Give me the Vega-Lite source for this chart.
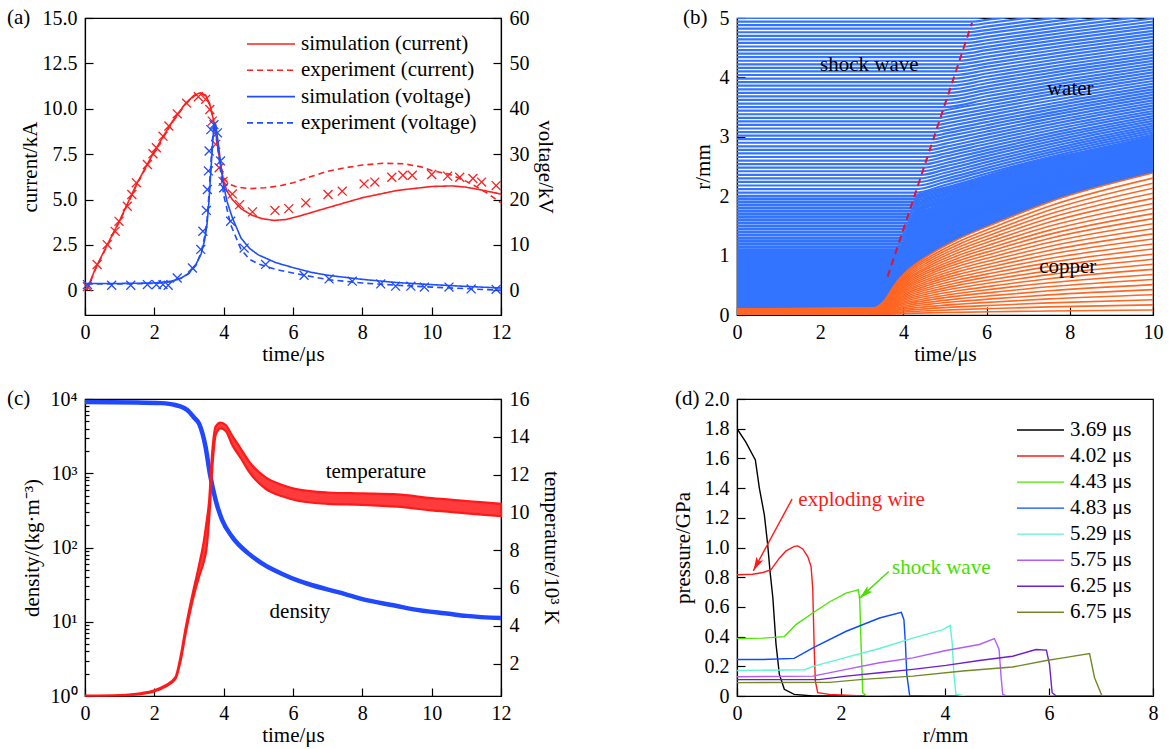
{
"$schema": "https://vega.github.io/schema/vega-lite/v6.json",
"background": "white",
"padding": {"left": 6, "top": 6, "right": 4, "bottom": 4},
"columns": 2,
"spacing": {"row": 84, "column": 236},
"bounds": "flush",
"resolve": {"scale": {"color": "independent", "strokeDash": "independent"}, "legend": {"color": "independent", "strokeDash": "independent"}},
"config": {
 "view": {"stroke": "#000000", "strokeWidth": 1.2},
 "font": "Liberation Serif, Times New Roman, serif",
 "axis": {"labelFont": "Liberation Serif, Times New Roman, serif", "labelFontSize": 20, "labelColor": "#000000", "titleFont": "Liberation Serif, Times New Roman, serif", "titleFontSize": 21, "titleFontWeight": "normal", "titleColor": "#000000", "domainColor": "#000000", "domainWidth": 1.2, "tickColor": "#000000", "tickWidth": 1.2, "tickSize": -8, "labelPadding": 16, "grid": false, "labelFlush": false, "labelOverlap": false},
 "axisX": {"labelPadding": 15},
 "title": {"font": "Liberation Serif, Times New Roman, serif", "fontSize": 21, "fontWeight": "normal", "color": "#000000"},
 "text": {"font": "Liberation Serif, Times New Roman, serif", "fontSize": 21, "color": "#000000"},
 "legend": {"labelFont": "Liberation Serif, Times New Roman, serif"}
},
"concat": [
{
 "width": 416, "height": 297,
 "title": {"text": "(a)", "anchor": "start", "frame": "group", "baseline": "middle", "offset": -10, "dx": -78, "dy": 21},
 "resolve": {"scale": {"y": "independent"}},
 "layer": [
  {
   "data": {"values": [
    {"s":"simulation (current)","t":0.05,"v":0},{"s":"simulation (current)","t":0.3,"v":1.2},{"s":"simulation (current)","t":0.6,"v":2.35},{"s":"simulation (current)","t":1.0,"v":3.85},{"s":"simulation (current)","t":1.5,"v":5.9},{"s":"simulation (current)","t":2.0,"v":7.65},{"s":"simulation (current)","t":2.5,"v":9.25},{"s":"simulation (current)","t":2.9,"v":10.3},{"s":"simulation (current)","t":3.15,"v":10.75},{"s":"simulation (current)","t":3.33,"v":10.88},{"s":"simulation (current)","t":3.48,"v":10.75},{"s":"simulation (current)","t":3.6,"v":10.25},{"s":"simulation (current)","t":3.7,"v":9.45},{"s":"simulation (current)","t":3.8,"v":8.3},{"s":"simulation (current)","t":3.9,"v":7.0},{"s":"simulation (current)","t":4.0,"v":6.0},{"s":"simulation (current)","t":4.1,"v":5.45},{"s":"simulation (current)","t":4.25,"v":5.0},{"s":"simulation (current)","t":4.5,"v":4.5},{"s":"simulation (current)","t":4.8,"v":4.15},{"s":"simulation (current)","t":5.1,"v":3.95},{"s":"simulation (current)","t":5.45,"v":3.85},{"s":"simulation (current)","t":5.8,"v":3.9},{"s":"simulation (current)","t":6.2,"v":4.1},{"s":"simulation (current)","t":7.0,"v":4.55},{"s":"simulation (current)","t":8.0,"v":5.1},{"s":"simulation (current)","t":9.0,"v":5.5},{"s":"simulation (current)","t":10.0,"v":5.72},{"s":"simulation (current)","t":10.6,"v":5.75},{"s":"simulation (current)","t":11.0,"v":5.68},{"s":"simulation (current)","t":11.5,"v":5.5},{"s":"simulation (current)","t":12.0,"v":5.3},
    {"s":"experiment (current)","t":0.05,"v":0},{"s":"experiment (current)","t":0.3,"v":1.15},{"s":"experiment (current)","t":0.6,"v":2.3},{"s":"experiment (current)","t":1.0,"v":3.8},{"s":"experiment (current)","t":1.5,"v":5.85},{"s":"experiment (current)","t":2.0,"v":7.6},{"s":"experiment (current)","t":2.5,"v":9.2},{"s":"experiment (current)","t":2.9,"v":10.25},{"s":"experiment (current)","t":3.15,"v":10.7},{"s":"experiment (current)","t":3.33,"v":10.85},{"s":"experiment (current)","t":3.48,"v":10.7},{"s":"experiment (current)","t":3.6,"v":10.2},{"s":"experiment (current)","t":3.7,"v":9.4},{"s":"experiment (current)","t":3.8,"v":8.2},{"s":"experiment (current)","t":3.9,"v":7.0},{"s":"experiment (current)","t":4.0,"v":6.2},{"s":"experiment (current)","t":4.15,"v":5.85},{"s":"experiment (current)","t":4.4,"v":5.68},{"s":"experiment (current)","t":4.75,"v":5.6},{"s":"experiment (current)","t":5.2,"v":5.65},{"s":"experiment (current)","t":5.6,"v":5.75},{"s":"experiment (current)","t":6.0,"v":5.92},{"s":"experiment (current)","t":6.5,"v":6.25},{"s":"experiment (current)","t":7.0,"v":6.56},{"s":"experiment (current)","t":7.5,"v":6.75},{"s":"experiment (current)","t":8.0,"v":6.9},{"s":"experiment (current)","t":8.6,"v":7.0},{"s":"experiment (current)","t":9.2,"v":6.97},{"s":"experiment (current)","t":9.7,"v":6.8},{"s":"experiment (current)","t":10.0,"v":6.6},{"s":"experiment (current)","t":10.5,"v":6.4},{"s":"experiment (current)","t":11.0,"v":6.0},{"s":"experiment (current)","t":11.3,"v":5.7},{"s":"experiment (current)","t":11.6,"v":5.35},{"s":"experiment (current)","t":12.0,"v":4.82}
   ]},
   "mark": {"type": "line", "strokeWidth": 1.6, "clip": true},
   "encoding": {
    "x": {"field": "t", "type": "quantitative", "scale": {"domain": [0, 12], "nice": false}, "axis": {"title": "time/μs", "values": [0,2,4,6,8,10,12], "titlePadding": 1}},
    "y": {"field": "v", "type": "quantitative", "scale": {"domain": [-1.36, 15], "nice": false, "zero": false}, "axis": {"orient": "left", "title": "current/kA", "values": [0,2.5,5,7.5,10,12.5,15], "tickCount": 20, "labelExpr": "datum.value == 0 ? '0' : format(datum.value, '.1f')", "titlePadding": 2}},
    "color": {"field": "s", "type": "nominal", "scale": {"domain": ["simulation (current)","experiment (current)","simulation (voltage)","experiment (voltage)"], "range": ["#ff1f1f","#ff1f1f","#1f4dff","#1f4dff"]}, "legend": {"title": null, "orient": "none", "legendX": 161, "legendY": 14, "symbolType": "stroke", "symbolSize": 2304, "symbolStrokeWidth": 1.6, "clipHeight": 24, "rowPadding": 2.3, "labelFontSize": 21, "labelOffset": 5, "labelLimit": 400, "padding": 0, "labelColor": "#000000"}},
    "strokeDash": {"field": "s", "type": "nominal", "scale": {"domain": ["simulation (current)","experiment (current)","simulation (voltage)","experiment (voltage)"], "range": [[1,0],[6,4],[1,0],[6,4]]}, "legend": {"title": null, "orient": "none", "legendX": 161, "legendY": 14, "symbolType": "stroke", "symbolSize": 2304, "symbolStrokeWidth": 1.6, "clipHeight": 24, "rowPadding": 2.3, "labelFontSize": 21, "labelOffset": 5, "labelLimit": 400, "padding": 0, "labelColor": "#000000"}}
   }
  },
  {
   "data": {"values": [
    {"t":0.07,"v":0.2},{"t":0.35,"v":1.42},{"t":0.64,"v":2.52},{"t":0.87,"v":3.25},{"t":0.98,"v":3.8},{"t":1.22,"v":4.63},{"t":1.35,"v":5.28},{"t":1.48,"v":5.92},{"t":1.8,"v":6.93},{"t":1.96,"v":7.52},{"t":2.06,"v":7.85},{"t":2.25,"v":8.49},{"t":2.42,"v":9.05},{"t":2.66,"v":9.72},{"t":2.93,"v":10.31},{"t":3.27,"v":10.66},{"t":3.48,"v":10.52},{"t":3.6,"v":9.96},{"t":3.67,"v":9.32},{"t":3.77,"v":8.04},{"t":3.87,"v":6.75},{"t":3.98,"v":6.0},{"t":4.25,"v":5.31},{"t":4.46,"v":4.72},{"t":4.83,"v":4.32},{"t":5.48,"v":4.4},{"t":5.88,"v":4.5},{"t":6.37,"v":4.82},{"t":7.01,"v":5.28},{"t":7.42,"v":5.46},{"t":8.05,"v":5.86},{"t":8.36,"v":5.96},{"t":8.85,"v":6.23},{"t":9.17,"v":6.34},{"t":9.44,"v":6.34},{"t":10.0,"v":6.38},{"t":10.46,"v":6.29},{"t":10.81,"v":6.23},{"t":11.19,"v":6.16},{"t":11.44,"v":5.96},{"t":11.86,"v":5.77}
   ]},
   "mark": {"type": "point", "shape": "M-1,-1L1,1M1,-1L-1,1", "filled": false, "size": 80, "strokeWidth": 1.3, "color": "#ff1f1f", "opacity": 1},
   "encoding": {
    "x": {"field": "t", "type": "quantitative"},
    "y": {"field": "v", "type": "quantitative", "scale": {"domain": [-1.36, 15], "nice": false, "zero": false}, "axis": null}
   }
  },
  {
   "data": {"values": [
    {"s":"simulation (voltage)","t":0.05,"v":1.5},{"s":"simulation (voltage)","t":1.0,"v":1.5},{"s":"simulation (voltage)","t":2.0,"v":1.6},{"s":"simulation (voltage)","t":2.5,"v":2.0},{"s":"simulation (voltage)","t":2.8,"v":2.8},{"s":"simulation (voltage)","t":3.0,"v":3.8},{"s":"simulation (voltage)","t":3.2,"v":5.7},{"s":"simulation (voltage)","t":3.35,"v":8.0},{"s":"simulation (voltage)","t":3.45,"v":11.0},{"s":"simulation (voltage)","t":3.52,"v":14.5},{"s":"simulation (voltage)","t":3.57,"v":19.0},{"s":"simulation (voltage)","t":3.62,"v":25.0},{"s":"simulation (voltage)","t":3.67,"v":31.0},{"s":"simulation (voltage)","t":3.71,"v":35.5},{"s":"simulation (voltage)","t":3.74,"v":36.9},{"s":"simulation (voltage)","t":3.78,"v":36.0},{"s":"simulation (voltage)","t":3.85,"v":32.0},{"s":"simulation (voltage)","t":3.92,"v":27.5},{"s":"simulation (voltage)","t":4.0,"v":23.0},{"s":"simulation (voltage)","t":4.1,"v":19.5},{"s":"simulation (voltage)","t":4.25,"v":16.0},{"s":"simulation (voltage)","t":4.5,"v":11.5},{"s":"simulation (voltage)","t":4.75,"v":9.2},{"s":"simulation (voltage)","t":5.0,"v":7.8},{"s":"simulation (voltage)","t":5.5,"v":6.1},{"s":"simulation (voltage)","t":6.0,"v":5.0},{"s":"simulation (voltage)","t":6.5,"v":4.0},{"s":"simulation (voltage)","t":7.0,"v":3.3},{"s":"simulation (voltage)","t":8.0,"v":2.4},{"s":"simulation (voltage)","t":9.0,"v":1.7},{"s":"simulation (voltage)","t":10.0,"v":1.25},{"s":"simulation (voltage)","t":11.0,"v":0.85},{"s":"simulation (voltage)","t":12.0,"v":0.5},
    {"s":"experiment (voltage)","t":0.05,"v":1.4},{"s":"experiment (voltage)","t":1.0,"v":1.4},{"s":"experiment (voltage)","t":2.0,"v":1.5},{"s":"experiment (voltage)","t":2.5,"v":1.9},{"s":"experiment (voltage)","t":2.8,"v":2.7},{"s":"experiment (voltage)","t":3.0,"v":3.7},{"s":"experiment (voltage)","t":3.2,"v":5.5},{"s":"experiment (voltage)","t":3.35,"v":8.3},{"s":"experiment (voltage)","t":3.45,"v":11.8},{"s":"experiment (voltage)","t":3.52,"v":15.5},{"s":"experiment (voltage)","t":3.57,"v":20.5},{"s":"experiment (voltage)","t":3.62,"v":26.5},{"s":"experiment (voltage)","t":3.67,"v":32.5},{"s":"experiment (voltage)","t":3.71,"v":36.0},{"s":"experiment (voltage)","t":3.74,"v":36.5},{"s":"experiment (voltage)","t":3.78,"v":35.0},{"s":"experiment (voltage)","t":3.85,"v":30.5},{"s":"experiment (voltage)","t":3.92,"v":25.5},{"s":"experiment (voltage)","t":4.0,"v":21.0},{"s":"experiment (voltage)","t":4.2,"v":14.5},{"s":"experiment (voltage)","t":4.5,"v":9.0},{"s":"experiment (voltage)","t":4.75,"v":6.8},{"s":"experiment (voltage)","t":5.0,"v":5.8},{"s":"experiment (voltage)","t":5.5,"v":4.6},{"s":"experiment (voltage)","t":6.0,"v":3.8},{"s":"experiment (voltage)","t":7.0,"v":2.35},{"s":"experiment (voltage)","t":8.0,"v":1.6},{"s":"experiment (voltage)","t":9.0,"v":1.1},{"s":"experiment (voltage)","t":10.0,"v":0.7},{"s":"experiment (voltage)","t":11.0,"v":0.35},{"s":"experiment (voltage)","t":12.0,"v":0.0}
   ]},
   "mark": {"type": "line", "strokeWidth": 1.6, "clip": true},
   "encoding": {
    "x": {"field": "t", "type": "quantitative"},
    "y": {"field": "v", "type": "quantitative", "scale": {"domain": [-5.45, 60], "nice": false, "zero": false}, "axis": {"orient": "right", "title": "voltage/kV", "values": [0,10,20,30,40,50,60], "tickCount": 20, "titlePadding": 5}},
    "color": {"field": "s", "type": "nominal", "scale": {"domain": ["simulation (current)","experiment (current)","simulation (voltage)","experiment (voltage)"], "range": ["#ff1f1f","#ff1f1f","#1f4dff","#1f4dff"]}, "legend": {"title": null, "orient": "none", "legendX": 161, "legendY": 14, "symbolType": "stroke", "symbolSize": 2304, "symbolStrokeWidth": 1.6, "clipHeight": 24, "rowPadding": 2.3, "labelFontSize": 21, "labelOffset": 5, "labelLimit": 400, "padding": 0, "labelColor": "#000000"}},
    "strokeDash": {"field": "s", "type": "nominal", "scale": {"domain": ["simulation (current)","experiment (current)","simulation (voltage)","experiment (voltage)"], "range": [[1,0],[6,4],[1,0],[6,4]]}, "legend": {"title": null, "orient": "none", "legendX": 161, "legendY": 14, "symbolType": "stroke", "symbolSize": 2304, "symbolStrokeWidth": 1.6, "clipHeight": 24, "rowPadding": 2.3, "labelFontSize": 21, "labelOffset": 5, "labelLimit": 400, "padding": 0, "labelColor": "#000000"}}
   }
  },
  {
   "data": {"values": [
    {"t":0.07,"v":1.25},{"t":0.77,"v":1.1},{"t":1.32,"v":1.1},{"t":1.8,"v":1.25},{"t":2.06,"v":1.25},{"t":2.25,"v":1.25},{"t":2.4,"v":1.1},{"t":2.66,"v":2.7},{"t":3.1,"v":4.9},{"t":3.34,"v":9.0},{"t":3.4,"v":13.0},{"t":3.5,"v":17.6},{"t":3.53,"v":22.2},{"t":3.56,"v":26.3},{"t":3.58,"v":30.7},{"t":3.63,"v":35.4},{"t":3.72,"v":36.5},{"t":3.82,"v":34.7},{"t":3.91,"v":28.5},{"t":4.0,"v":22.6},{"t":4.2,"v":15.2},{"t":4.59,"v":9.3},{"t":5.21,"v":5.7},{"t":6.32,"v":3.3},{"t":7.04,"v":2.5},{"t":7.71,"v":2.0},{"t":8.53,"v":1.4},{"t":8.96,"v":0.9},{"t":9.4,"v":0.9},{"t":9.79,"v":0.7},{"t":10.5,"v":0.7},{"t":11.14,"v":0.3},{"t":11.86,"v":0.2}
   ]},
   "mark": {"type": "point", "shape": "M-1,-1L1,1M1,-1L-1,1", "filled": false, "size": 80, "strokeWidth": 1.3, "color": "#1f4dff", "opacity": 1},
   "encoding": {
    "x": {"field": "t", "type": "quantitative"},
    "y": {"field": "v", "type": "quantitative", "scale": {"domain": [-5.45, 60], "nice": false, "zero": false}, "axis": null}
   }
  }
 ]
},
{
 "width": 416, "height": 297,
 "title": {"text": "(b)", "anchor": "start", "frame": "group", "baseline": "middle", "offset": -10, "dx": -54, "dy": 21},
 "layer": [
  {
   "data": {"values": [{"t":0,"lo":0.1,"hi":1.12},{"t":3.3,"lo":0.12,"hi":1.12},{"t":3.55,"lo":0.25,"hi":1.12},{"t":3.8,"lo":0.52,"hi":1.12},{"t":4.1,"lo":0.75,"hi":1.227},{"t":4.6,"lo":1.0,"hi":1.394},{"t":5.3,"lo":1.27,"hi":1.599},{"t":6.2,"lo":1.54,"hi":1.821},{"t":7.5,"lo":1.9,"hi":2.134},{"t":10,"lo":2.39,"hi":2.58}]},
   "mark": {"type": "area", "color": "#3273ff", "interpolate": "monotone", "clip": true, "opacity": 1},
   "encoding": {
    "x": {"field": "t", "type": "quantitative", "scale": {"domain": [0, 10], "nice": false}, "axis": {"title": "time/μs", "values": [0,2,4,6,8,10], "format": "d", "titlePadding": 1}},
    "y": {"field": "lo", "type": "quantitative", "scale": {"domain": [0, 5], "nice": false}, "axis": {"title": "r/mm", "values": [0,1,2,3,4,5], "format": "d", "titlePadding": 6}},
    "y2": {"field": "hi"}
   }
  },
  {
   "data": {"values": [
    {"k":1,"t":0,"r":1.05},{"k":1,"t":3.813,"r":1.05},{"k":1,"t":4.4,"r":1.293},{"k":1,"t":5,"r":1.457},{"k":1,"t":6,"r":1.736},{"k":1,"t":7,"r":1.998},{"k":1,"t":8.5,"r":2.287},{"k":1,"t":10,"r":2.556},
    {"k":2,"t":0,"r":1.1},{"k":2,"t":3.837,"r":1.1},{"k":2,"t":4.4,"r":1.327},{"k":2,"t":5,"r":1.487},{"k":2,"t":6,"r":1.761},{"k":2,"t":7,"r":2.02},{"k":2,"t":8.5,"r":2.307},{"k":2,"t":10,"r":2.573},
    {"k":3,"t":0,"r":1.15},{"k":3,"t":3.86,"r":1.15},{"k":3,"t":4.4,"r":1.361},{"k":3,"t":5,"r":1.517},{"k":3,"t":6,"r":1.787},{"k":3,"t":7,"r":2.043},{"k":3,"t":8.5,"r":2.326},{"k":3,"t":10,"r":2.591},
    {"k":4,"t":0,"r":1.2},{"k":4,"t":3.884,"r":1.2},{"k":4,"t":4.4,"r":1.395},{"k":4,"t":5,"r":1.548},{"k":4,"t":6,"r":1.812},{"k":4,"t":7,"r":2.065},{"k":4,"t":8.5,"r":2.346},{"k":4,"t":10,"r":2.609},
    {"k":5,"t":0,"r":1.25},{"k":5,"t":3.908,"r":1.25},{"k":5,"t":4.4,"r":1.429},{"k":5,"t":5,"r":1.579},{"k":5,"t":6,"r":1.839},{"k":5,"t":7,"r":2.089},{"k":5,"t":8.5,"r":2.367},{"k":5,"t":10,"r":2.627},
    {"k":6,"t":0,"r":1.3},{"k":6,"t":3.932,"r":1.3},{"k":6,"t":4.4,"r":1.466},{"k":6,"t":5,"r":1.612},{"k":6,"t":6,"r":1.868},{"k":6,"t":7,"r":2.114},{"k":6,"t":8.5,"r":2.39},{"k":6,"t":10,"r":2.648},
    {"k":7,"t":0,"r":1.35},{"k":7,"t":3.956,"r":1.35},{"k":7,"t":4.4,"r":1.502},{"k":7,"t":5,"r":1.645},{"k":7,"t":6,"r":1.897},{"k":7,"t":7,"r":2.14},{"k":7,"t":8.5,"r":2.412},{"k":7,"t":10,"r":2.668},
    {"k":8,"t":0,"r":1.4},{"k":8,"t":3.98,"r":1.4},{"k":8,"t":4.4,"r":1.539},{"k":8,"t":5,"r":1.679},{"k":8,"t":6,"r":1.926},{"k":8,"t":7,"r":2.166},{"k":8,"t":8.5,"r":2.435},{"k":8,"t":10,"r":2.689},
    {"k":9,"t":0,"r":1.45},{"k":9,"t":4.003,"r":1.45},{"k":9,"t":4.4,"r":1.579},{"k":9,"t":5,"r":1.715},{"k":9,"t":6,"r":1.958},{"k":9,"t":7,"r":2.194},{"k":9,"t":8.5,"r":2.46},{"k":9,"t":10,"r":2.712},
    {"k":10,"t":0,"r":1.5},{"k":10,"t":4.027,"r":1.5},{"k":10,"t":4.4,"r":1.616},{"k":10,"t":5,"r":1.749},{"k":10,"t":6,"r":1.987},{"k":10,"t":7,"r":2.22},{"k":10,"t":8.5,"r":2.484},{"k":10,"t":10,"r":2.733},
    {"k":11,"t":0,"r":1.55},{"k":11,"t":4.051,"r":1.55},{"k":11,"t":4.4,"r":1.656},{"k":11,"t":5,"r":1.787},{"k":11,"t":6,"r":2.021},{"k":11,"t":7,"r":2.25},{"k":11,"t":8.5,"r":2.51},{"k":11,"t":10,"r":2.757},
    {"k":12,"t":0,"r":1.6},{"k":12,"t":4.075,"r":1.6},{"k":12,"t":4.4,"r":1.696},{"k":12,"t":5,"r":1.823},{"k":12,"t":6,"r":2.053},{"k":12,"t":7,"r":2.279},{"k":12,"t":8.5,"r":2.537},{"k":12,"t":10,"r":2.781},
    {"k":13,"t":0,"r":1.65},{"k":13,"t":4.099,"r":1.65},{"k":13,"t":4.4,"r":1.736},{"k":13,"t":5,"r":1.861},{"k":13,"t":6,"r":2.086},{"k":13,"t":7,"r":2.309},{"k":13,"t":8.5,"r":2.564},{"k":13,"t":10,"r":2.806},
    {"k":14,"t":0,"r":1.7},{"k":14,"t":4.122,"r":1.7},{"k":14,"t":4.4,"r":1.778},{"k":14,"t":5,"r":1.9},{"k":14,"t":6,"r":2.121},{"k":14,"t":7,"r":2.341},{"k":14,"t":8.5,"r":2.592},{"k":14,"t":10,"r":2.832},
    {"k":15,"t":0,"r":1.75},{"k":15,"t":4.146,"r":1.75},{"k":15,"t":4.4,"r":1.817},{"k":15,"t":5,"r":1.937},{"k":15,"t":6,"r":2.155},{"k":15,"t":7,"r":2.371},{"k":15,"t":8.5,"r":2.62},{"k":15,"t":10,"r":2.857},
    {"k":16,"t":0,"r":1.8},{"k":16,"t":4.17,"r":1.8},{"k":16,"t":4.4,"r":1.86},{"k":16,"t":5,"r":1.977},{"k":16,"t":6,"r":2.191},{"k":16,"t":7,"r":2.404},{"k":16,"t":8.5,"r":2.65},{"k":16,"t":10,"r":2.884},
    {"k":17,"t":0,"r":1.85},{"k":17,"t":4.194,"r":1.85},{"k":17,"t":4.4,"r":1.902},{"k":17,"t":5,"r":2.017},{"k":17,"t":6,"r":2.227},{"k":17,"t":7,"r":2.437},{"k":17,"t":8.5,"r":2.679},{"k":17,"t":10,"r":2.912},
    {"k":18,"t":0,"r":1.9},{"k":18,"t":4.218,"r":1.9},{"k":18,"t":4.4,"r":1.944},{"k":18,"t":5,"r":2.057},{"k":18,"t":6,"r":2.263},{"k":18,"t":7,"r":2.47},{"k":18,"t":8.5,"r":2.709},{"k":18,"t":10,"r":2.939},
    {"k":19,"t":0,"r":1.95},{"k":19,"t":4.241,"r":1.95},{"k":19,"t":4.4,"r":1.988},{"k":19,"t":5,"r":2.098},{"k":19,"t":6,"r":2.301},{"k":19,"t":7,"r":2.504},{"k":19,"t":8.5,"r":2.741},{"k":19,"t":10,"r":2.969},
    {"k":20,"t":0,"r":2.0},{"k":20,"t":4.265,"r":2.0},{"k":20,"t":4.4,"r":2.031},{"k":20,"t":5,"r":2.139},{"k":20,"t":6,"r":2.338},{"k":20,"t":7,"r":2.539},{"k":20,"t":8.5,"r":2.772},{"k":20,"t":10,"r":2.998}
   ]},
   "mark": {"type": "line", "color": "#3273ff", "strokeWidth": 2.8, "interpolate": "monotone", "clip": true},
   "encoding": {
    "x": {"field": "t", "type": "quantitative"},
    "y": {"field": "r", "type": "quantitative"},
    "detail": {"field": "k", "type": "nominal"}
   }
  },
  {
   "data": {"values": [
    {"k":21,"t":0,"r":2.06},{"k":21,"t":4.294,"r":2.06},{"k":21,"t":5,"r":2.188},{"k":21,"t":6,"r":2.383},{"k":21,"t":8,"r":2.737},{"k":21,"t":10,"r":3.033},
    {"k":22,"t":0,"r":2.12},{"k":22,"t":4.323,"r":2.12},{"k":22,"t":5,"r":2.239},{"k":22,"t":6,"r":2.43},{"k":22,"t":8,"r":2.778},{"k":22,"t":10,"r":3.07},
    {"k":23,"t":0,"r":2.18},{"k":23,"t":4.351,"r":2.18},{"k":23,"t":5,"r":2.29},{"k":23,"t":6,"r":2.476},{"k":23,"t":8,"r":2.818},{"k":23,"t":10,"r":3.107},
    {"k":24,"t":0,"r":2.24},{"k":24,"t":4.38,"r":2.24},{"k":24,"t":5,"r":2.343},{"k":24,"t":6,"r":2.525},{"k":24,"t":8,"r":2.861},{"k":24,"t":10,"r":3.146},
    {"k":25,"t":0,"r":2.3},{"k":25,"t":4.408,"r":2.3},{"k":25,"t":5,"r":2.395},{"k":25,"t":6,"r":2.574},{"k":25,"t":8,"r":2.904},{"k":25,"t":10,"r":3.185},
    {"k":26,"t":0,"r":2.36},{"k":26,"t":4.437,"r":2.36},{"k":26,"t":5,"r":2.448},{"k":26,"t":6,"r":2.624},{"k":26,"t":8,"r":2.949},{"k":26,"t":10,"r":3.226},
    {"k":27,"t":0,"r":2.42},{"k":27,"t":4.465,"r":2.42},{"k":27,"t":5,"r":2.502},{"k":27,"t":6,"r":2.674},{"k":27,"t":8,"r":2.994},{"k":27,"t":10,"r":3.267},
    {"k":28,"t":0,"r":2.48},{"k":28,"t":4.494,"r":2.48},{"k":28,"t":5,"r":2.555},{"k":28,"t":6,"r":2.724},{"k":28,"t":8,"r":3.038},{"k":28,"t":10,"r":3.308},
    {"k":29,"t":0,"r":2.54},{"k":29,"t":4.523,"r":2.54},{"k":29,"t":5,"r":2.61},{"k":29,"t":6,"r":2.775},{"k":29,"t":8,"r":3.084},{"k":29,"t":10,"r":3.35},
    {"k":30,"t":0,"r":2.6},{"k":30,"t":4.551,"r":2.6},{"k":30,"t":5,"r":2.665},{"k":30,"t":6,"r":2.827},{"k":30,"t":8,"r":3.13},{"k":30,"t":10,"r":3.393},
    {"k":31,"t":0,"r":2.66},{"k":31,"t":4.58,"r":2.66},{"k":31,"t":5,"r":2.719},{"k":31,"t":6,"r":2.878},{"k":31,"t":8,"r":3.177},{"k":31,"t":10,"r":3.435},
    {"k":32,"t":0,"r":2.72},{"k":32,"t":4.608,"r":2.72},{"k":32,"t":5,"r":2.774},{"k":32,"t":6,"r":2.93},{"k":32,"t":8,"r":3.224},{"k":32,"t":10,"r":3.479},
    {"k":33,"t":0,"r":2.78},{"k":33,"t":4.637,"r":2.78},{"k":33,"t":5,"r":2.83},{"k":33,"t":6,"r":2.983},{"k":33,"t":8,"r":3.272},{"k":33,"t":10,"r":3.524},
    {"k":34,"t":0,"r":2.84},{"k":34,"t":4.665,"r":2.84},{"k":34,"t":5,"r":2.885},{"k":34,"t":6,"r":3.036},{"k":34,"t":8,"r":3.32},{"k":34,"t":10,"r":3.569},
    {"k":35,"t":0,"r":2.9},{"k":35,"t":4.694,"r":2.9},{"k":35,"t":5,"r":2.942},{"k":35,"t":6,"r":3.089},{"k":35,"t":8,"r":3.37},{"k":35,"t":10,"r":3.615},
    {"k":36,"t":0,"r":2.96},{"k":36,"t":4.723,"r":2.96},{"k":36,"t":5,"r":2.998},{"k":36,"t":6,"r":3.143},{"k":36,"t":8,"r":3.419},{"k":36,"t":10,"r":3.66},
    {"k":37,"t":0,"r":3.02},{"k":37,"t":4.751,"r":3.02},{"k":37,"t":5,"r":3.053},{"k":37,"t":6,"r":3.195},{"k":37,"t":8,"r":3.467},{"k":37,"t":10,"r":3.705},
    {"k":38,"t":0,"r":3.08},{"k":38,"t":4.78,"r":3.08},{"k":38,"t":5,"r":3.108},{"k":38,"t":6,"r":3.248},{"k":38,"t":8,"r":3.516},{"k":38,"t":10,"r":3.751},
    {"k":39,"t":0,"r":3.14},{"k":39,"t":4.808,"r":3.14},{"k":39,"t":5,"r":3.165},{"k":39,"t":6,"r":3.302},{"k":39,"t":8,"r":3.566},{"k":39,"t":10,"r":3.798},
    {"k":40,"t":0,"r":3.2},{"k":40,"t":4.837,"r":3.2},{"k":40,"t":5,"r":3.221},{"k":40,"t":6,"r":3.356},{"k":40,"t":8,"r":3.616},{"k":40,"t":10,"r":3.845},
    {"k":41,"t":0,"r":3.26},{"k":41,"t":4.865,"r":3.26},{"k":41,"t":5,"r":3.278},{"k":41,"t":6,"r":3.411},{"k":41,"t":8,"r":3.666},{"k":41,"t":10,"r":3.893},
    {"k":42,"t":0,"r":3.32},{"k":42,"t":4.894,"r":3.32},{"k":42,"t":5,"r":3.334},{"k":42,"t":6,"r":3.465},{"k":42,"t":8,"r":3.717},{"k":42,"t":10,"r":3.94},
    {"k":43,"t":0,"r":3.38},{"k":43,"t":4.923,"r":3.38},{"k":43,"t":5,"r":3.39},{"k":43,"t":6,"r":3.519},{"k":43,"t":8,"r":3.768},{"k":43,"t":10,"r":3.988},
    {"k":44,"t":0,"r":3.44},{"k":44,"t":4.951,"r":3.44},{"k":44,"t":5,"r":3.447},{"k":44,"t":6,"r":3.573},{"k":44,"t":8,"r":3.818},{"k":44,"t":10,"r":4.036},
    {"k":45,"t":0,"r":3.5},{"k":45,"t":4.98,"r":3.5},{"k":45,"t":6,"r":3.628},{"k":45,"t":8,"r":3.869},{"k":45,"t":10,"r":4.084},
    {"k":46,"t":0,"r":3.56},{"k":46,"t":5.008,"r":3.56},{"k":46,"t":6,"r":3.682},{"k":46,"t":8,"r":3.92},{"k":46,"t":10,"r":4.133},
    {"k":47,"t":0,"r":3.62},{"k":47,"t":5.037,"r":3.62},{"k":47,"t":6,"r":3.737},{"k":47,"t":8,"r":3.972},{"k":47,"t":10,"r":4.181},
    {"k":48,"t":0,"r":3.68},{"k":48,"t":5.065,"r":3.68},{"k":48,"t":6,"r":3.791},{"k":48,"t":8,"r":4.023},{"k":48,"t":10,"r":4.23},
    {"k":49,"t":0,"r":3.74},{"k":49,"t":5.094,"r":3.74},{"k":49,"t":6,"r":3.846},{"k":49,"t":8,"r":4.075},{"k":49,"t":10,"r":4.279},
    {"k":50,"t":0,"r":3.8},{"k":50,"t":5.123,"r":3.8},{"k":50,"t":6,"r":3.901},{"k":50,"t":8,"r":4.127},{"k":50,"t":10,"r":4.329},
    {"k":51,"t":0,"r":3.86},{"k":51,"t":5.151,"r":3.86},{"k":51,"t":6,"r":3.956},{"k":51,"t":8,"r":4.178},{"k":51,"t":10,"r":4.378},
    {"k":52,"t":0,"r":3.92},{"k":52,"t":5.18,"r":3.92},{"k":52,"t":6,"r":4.011},{"k":52,"t":8,"r":4.23},{"k":52,"t":10,"r":4.428},
    {"k":53,"t":0,"r":3.98},{"k":53,"t":5.208,"r":3.98},{"k":53,"t":6,"r":4.066},{"k":53,"t":8,"r":4.283},{"k":53,"t":10,"r":4.478},
    {"k":54,"t":0,"r":4.04},{"k":54,"t":5.237,"r":4.04},{"k":54,"t":6,"r":4.121},{"k":54,"t":8,"r":4.335},{"k":54,"t":10,"r":4.528},
    {"k":55,"t":0,"r":4.1},{"k":55,"t":5.265,"r":4.1},{"k":55,"t":6,"r":4.177},{"k":55,"t":8,"r":4.388},{"k":55,"t":10,"r":4.579},
    {"k":56,"t":0,"r":4.16},{"k":56,"t":5.294,"r":4.16},{"k":56,"t":6,"r":4.232},{"k":56,"t":8,"r":4.441},{"k":56,"t":10,"r":4.629},
    {"k":57,"t":0,"r":4.22},{"k":57,"t":5.323,"r":4.22},{"k":57,"t":6,"r":4.289},{"k":57,"t":8,"r":4.495},{"k":57,"t":10,"r":4.681},
    {"k":58,"t":0,"r":4.28},{"k":58,"t":5.351,"r":4.28},{"k":58,"t":6,"r":4.346},{"k":58,"t":8,"r":4.549},{"k":58,"t":10,"r":4.733},
    {"k":59,"t":0,"r":4.34},{"k":59,"t":5.38,"r":4.34},{"k":59,"t":6,"r":4.402},{"k":59,"t":8,"r":4.603},{"k":59,"t":10,"r":4.785},
    {"k":60,"t":0,"r":4.4},{"k":60,"t":5.408,"r":4.4},{"k":60,"t":6,"r":4.459},{"k":60,"t":8,"r":4.657},{"k":60,"t":10,"r":4.837},
    {"k":61,"t":0,"r":4.46},{"k":61,"t":5.437,"r":4.46},{"k":61,"t":6,"r":4.515},{"k":61,"t":8,"r":4.711},{"k":61,"t":10,"r":4.889},
    {"k":62,"t":0,"r":4.52},{"k":62,"t":5.465,"r":4.52},{"k":62,"t":6,"r":4.571},{"k":62,"t":8,"r":4.764},{"k":62,"t":10,"r":4.941},
    {"k":63,"t":0,"r":4.58},{"k":63,"t":5.494,"r":4.58},{"k":63,"t":6,"r":4.626},{"k":63,"t":8,"r":4.818},{"k":63,"t":10,"r":4.992},
    {"k":64,"t":0,"r":4.64},{"k":64,"t":5.523,"r":4.64},{"k":64,"t":6,"r":4.683},{"k":64,"t":8,"r":4.872},{"k":64,"t":10,"r":5.045},
    {"k":65,"t":0,"r":4.7},{"k":65,"t":5.551,"r":4.7},{"k":65,"t":6,"r":4.74},{"k":65,"t":8,"r":4.928},{"k":65,"t":10,"r":5.098},
    {"k":66,"t":0,"r":4.76},{"k":66,"t":5.58,"r":4.76},{"k":66,"t":6,"r":4.797},{"k":66,"t":8,"r":4.982},{"k":66,"t":10,"r":5.151},
    {"k":67,"t":0,"r":4.82},{"k":67,"t":5.608,"r":4.82},{"k":67,"t":6,"r":4.854},{"k":67,"t":8,"r":5.037},{"k":67,"t":10,"r":5.2},
    {"k":68,"t":0,"r":4.88},{"k":68,"t":5.637,"r":4.88},{"k":68,"t":6,"r":4.912},{"k":68,"t":8,"r":5.093},{"k":68,"t":10,"r":5.25},
    {"k":69,"t":0,"r":4.94},{"k":69,"t":5.665,"r":4.94},{"k":69,"t":6,"r":4.969},{"k":69,"t":8,"r":5.148},{"k":69,"t":10,"r":5.3},
    {"k":70,"t":0,"r":5.0},{"k":70,"t":5.694,"r":5.0},{"k":70,"t":6,"r":5.026},{"k":70,"t":8,"r":5.203},{"k":70,"t":10,"r":5.36}
   ]},
   "mark": {"type": "line", "color": "#3273ff", "strokeWidth": 2.2, "interpolate": "monotone", "clip": true},
   "encoding": {
    "x": {"field": "t", "type": "quantitative"},
    "y": {"field": "r", "type": "quantitative"},
    "detail": {"field": "k", "type": "nominal"}
   }
  },
  {
   "data": {"values": [
    {"c":1,"t":0,"r":0.004},{"c":1,"t":3.3,"r":0.004},{"c":1,"t":3.55,"r":0.009},{"c":1,"t":3.8,"r":0.019},{"c":1,"t":4.1,"r":0.027},{"c":1,"t":4.6,"r":0.036},{"c":1,"t":5.3,"r":0.045},{"c":1,"t":6.2,"r":0.055},{"c":1,"t":7.5,"r":0.068},{"c":1,"t":10,"r":0.085},
    {"c":2,"t":0,"r":0.007},{"c":2,"t":3.3,"r":0.009},{"c":2,"t":3.55,"r":0.018},{"c":2,"t":3.8,"r":0.037},{"c":2,"t":4.1,"r":0.054},{"c":2,"t":4.6,"r":0.071},{"c":2,"t":5.3,"r":0.091},{"c":2,"t":6.2,"r":0.11},{"c":2,"t":7.5,"r":0.136},{"c":2,"t":10,"r":0.171},
    {"c":3,"t":0,"r":0.011},{"c":3,"t":3.3,"r":0.013},{"c":3,"t":3.55,"r":0.027},{"c":3,"t":3.8,"r":0.056},{"c":3,"t":4.1,"r":0.08},{"c":3,"t":4.6,"r":0.107},{"c":3,"t":5.3,"r":0.136},{"c":3,"t":6.2,"r":0.165},{"c":3,"t":7.5,"r":0.204},{"c":3,"t":10,"r":0.256},
    {"c":4,"t":0,"r":0.014},{"c":4,"t":3.3,"r":0.017},{"c":4,"t":3.55,"r":0.036},{"c":4,"t":3.8,"r":0.074},{"c":4,"t":4.1,"r":0.107},{"c":4,"t":4.6,"r":0.143},{"c":4,"t":5.3,"r":0.181},{"c":4,"t":6.2,"r":0.22},{"c":4,"t":7.5,"r":0.271},{"c":4,"t":10,"r":0.341},
    {"c":5,"t":0,"r":0.018},{"c":5,"t":3.3,"r":0.021},{"c":5,"t":3.55,"r":0.045},{"c":5,"t":3.8,"r":0.093},{"c":5,"t":4.1,"r":0.134},{"c":5,"t":4.6,"r":0.179},{"c":5,"t":5.3,"r":0.227},{"c":5,"t":6.2,"r":0.275},{"c":5,"t":7.5,"r":0.339},{"c":5,"t":10,"r":0.427},
    {"c":6,"t":0,"r":0.021},{"c":6,"t":3.3,"r":0.026},{"c":6,"t":3.55,"r":0.054},{"c":6,"t":3.8,"r":0.111},{"c":6,"t":4.1,"r":0.161},{"c":6,"t":4.6,"r":0.214},{"c":6,"t":5.3,"r":0.272},{"c":6,"t":6.2,"r":0.33},{"c":6,"t":7.5,"r":0.407},{"c":6,"t":10,"r":0.512},
    {"c":7,"t":0,"r":0.025},{"c":7,"t":3.3,"r":0.03},{"c":7,"t":3.55,"r":0.063},{"c":7,"t":3.8,"r":0.13},{"c":7,"t":4.1,"r":0.188},{"c":7,"t":4.6,"r":0.25},{"c":7,"t":5.3,"r":0.318},{"c":7,"t":6.2,"r":0.385},{"c":7,"t":7.5,"r":0.475},{"c":7,"t":10,"r":0.598},
    {"c":8,"t":0,"r":0.029},{"c":8,"t":3.3,"r":0.034},{"c":8,"t":3.55,"r":0.071},{"c":8,"t":3.8,"r":0.149},{"c":8,"t":4.1,"r":0.214},{"c":8,"t":4.6,"r":0.286},{"c":8,"t":5.3,"r":0.363},{"c":8,"t":6.2,"r":0.44},{"c":8,"t":7.5,"r":0.543},{"c":8,"t":10,"r":0.683},
    {"c":9,"t":0,"r":0.032},{"c":9,"t":3.3,"r":0.039},{"c":9,"t":3.55,"r":0.08},{"c":9,"t":3.8,"r":0.167},{"c":9,"t":4.1,"r":0.241},{"c":9,"t":4.6,"r":0.321},{"c":9,"t":5.3,"r":0.408},{"c":9,"t":6.2,"r":0.495},{"c":9,"t":7.5,"r":0.611},{"c":9,"t":10,"r":0.768},
    {"c":10,"t":0,"r":0.036},{"c":10,"t":3.3,"r":0.043},{"c":10,"t":3.55,"r":0.089},{"c":10,"t":3.8,"r":0.186},{"c":10,"t":4.1,"r":0.268},{"c":10,"t":4.6,"r":0.357},{"c":10,"t":5.3,"r":0.454},{"c":10,"t":6.2,"r":0.55},{"c":10,"t":7.5,"r":0.679},{"c":10,"t":10,"r":0.854},
    {"c":11,"t":0,"r":0.039},{"c":11,"t":3.3,"r":0.047},{"c":11,"t":3.55,"r":0.098},{"c":11,"t":3.8,"r":0.204},{"c":11,"t":4.1,"r":0.295},{"c":11,"t":4.6,"r":0.393},{"c":11,"t":5.3,"r":0.499},{"c":11,"t":6.2,"r":0.605},{"c":11,"t":7.5,"r":0.746},{"c":11,"t":10,"r":0.939},
    {"c":12,"t":0,"r":0.043},{"c":12,"t":3.3,"r":0.051},{"c":12,"t":3.55,"r":0.107},{"c":12,"t":3.8,"r":0.223},{"c":12,"t":4.1,"r":0.321},{"c":12,"t":4.6,"r":0.429},{"c":12,"t":5.3,"r":0.544},{"c":12,"t":6.2,"r":0.66},{"c":12,"t":7.5,"r":0.814},{"c":12,"t":10,"r":1.024},
    {"c":13,"t":0,"r":0.046},{"c":13,"t":3.3,"r":0.056},{"c":13,"t":3.55,"r":0.116},{"c":13,"t":3.8,"r":0.241},{"c":13,"t":4.1,"r":0.348},{"c":13,"t":4.6,"r":0.464},{"c":13,"t":5.3,"r":0.59},{"c":13,"t":6.2,"r":0.715},{"c":13,"t":7.5,"r":0.882},{"c":13,"t":10,"r":1.11},
    {"c":14,"t":0,"r":0.05},{"c":14,"t":3.3,"r":0.06},{"c":14,"t":3.55,"r":0.125},{"c":14,"t":3.8,"r":0.26},{"c":14,"t":4.1,"r":0.375},{"c":14,"t":4.6,"r":0.5},{"c":14,"t":5.3,"r":0.635},{"c":14,"t":6.2,"r":0.77},{"c":14,"t":7.5,"r":0.95},{"c":14,"t":10,"r":1.195},
    {"c":15,"t":0,"r":0.054},{"c":15,"t":3.3,"r":0.064},{"c":15,"t":3.55,"r":0.134},{"c":15,"t":3.8,"r":0.279},{"c":15,"t":4.1,"r":0.402},{"c":15,"t":4.6,"r":0.536},{"c":15,"t":5.3,"r":0.68},{"c":15,"t":6.2,"r":0.825},{"c":15,"t":7.5,"r":1.018},{"c":15,"t":10,"r":1.28},
    {"c":16,"t":0,"r":0.057},{"c":16,"t":3.3,"r":0.069},{"c":16,"t":3.55,"r":0.143},{"c":16,"t":3.8,"r":0.297},{"c":16,"t":4.1,"r":0.429},{"c":16,"t":4.6,"r":0.571},{"c":16,"t":5.3,"r":0.726},{"c":16,"t":6.2,"r":0.88},{"c":16,"t":7.5,"r":1.086},{"c":16,"t":10,"r":1.366},
    {"c":17,"t":0,"r":0.061},{"c":17,"t":3.3,"r":0.073},{"c":17,"t":3.55,"r":0.152},{"c":17,"t":3.8,"r":0.316},{"c":17,"t":4.1,"r":0.455},{"c":17,"t":4.6,"r":0.607},{"c":17,"t":5.3,"r":0.771},{"c":17,"t":6.2,"r":0.935},{"c":17,"t":7.5,"r":1.154},{"c":17,"t":10,"r":1.451},
    {"c":18,"t":0,"r":0.064},{"c":18,"t":3.3,"r":0.077},{"c":18,"t":3.55,"r":0.161},{"c":18,"t":3.8,"r":0.334},{"c":18,"t":4.1,"r":0.482},{"c":18,"t":4.6,"r":0.643},{"c":18,"t":5.3,"r":0.816},{"c":18,"t":6.2,"r":0.99},{"c":18,"t":7.5,"r":1.221},{"c":18,"t":10,"r":1.536},
    {"c":19,"t":0,"r":0.068},{"c":19,"t":3.3,"r":0.081},{"c":19,"t":3.55,"r":0.17},{"c":19,"t":3.8,"r":0.353},{"c":19,"t":4.1,"r":0.509},{"c":19,"t":4.6,"r":0.679},{"c":19,"t":5.3,"r":0.862},{"c":19,"t":6.2,"r":1.045},{"c":19,"t":7.5,"r":1.289},{"c":19,"t":10,"r":1.622},
    {"c":20,"t":0,"r":0.071},{"c":20,"t":3.3,"r":0.086},{"c":20,"t":3.55,"r":0.179},{"c":20,"t":3.8,"r":0.371},{"c":20,"t":4.1,"r":0.536},{"c":20,"t":4.6,"r":0.714},{"c":20,"t":5.3,"r":0.907},{"c":20,"t":6.2,"r":1.1},{"c":20,"t":7.5,"r":1.357},{"c":20,"t":10,"r":1.707},
    {"c":21,"t":0,"r":0.075},{"c":21,"t":3.3,"r":0.09},{"c":21,"t":3.55,"r":0.188},{"c":21,"t":3.8,"r":0.39},{"c":21,"t":4.1,"r":0.563},{"c":21,"t":4.6,"r":0.75},{"c":21,"t":5.3,"r":0.953},{"c":21,"t":6.2,"r":1.155},{"c":21,"t":7.5,"r":1.425},{"c":21,"t":10,"r":1.793},
    {"c":22,"t":0,"r":0.079},{"c":22,"t":3.3,"r":0.094},{"c":22,"t":3.55,"r":0.196},{"c":22,"t":3.8,"r":0.409},{"c":22,"t":4.1,"r":0.589},{"c":22,"t":4.6,"r":0.786},{"c":22,"t":5.3,"r":0.998},{"c":22,"t":6.2,"r":1.21},{"c":22,"t":7.5,"r":1.493},{"c":22,"t":10,"r":1.878},
    {"c":23,"t":0,"r":0.082},{"c":23,"t":3.3,"r":0.099},{"c":23,"t":3.55,"r":0.205},{"c":23,"t":3.8,"r":0.427},{"c":23,"t":4.1,"r":0.616},{"c":23,"t":4.6,"r":0.821},{"c":23,"t":5.3,"r":1.043},{"c":23,"t":6.2,"r":1.265},{"c":23,"t":7.5,"r":1.561},{"c":23,"t":10,"r":1.963},
    {"c":24,"t":0,"r":0.086},{"c":24,"t":3.3,"r":0.103},{"c":24,"t":3.55,"r":0.214},{"c":24,"t":3.8,"r":0.446},{"c":24,"t":4.1,"r":0.643},{"c":24,"t":4.6,"r":0.857},{"c":24,"t":5.3,"r":1.089},{"c":24,"t":6.2,"r":1.32},{"c":24,"t":7.5,"r":1.629},{"c":24,"t":10,"r":2.049},
    {"c":25,"t":0,"r":0.089},{"c":25,"t":3.3,"r":0.107},{"c":25,"t":3.55,"r":0.223},{"c":25,"t":3.8,"r":0.464},{"c":25,"t":4.1,"r":0.67},{"c":25,"t":4.6,"r":0.893},{"c":25,"t":5.3,"r":1.134},{"c":25,"t":6.2,"r":1.375},{"c":25,"t":7.5,"r":1.696},{"c":25,"t":10,"r":2.134},
    {"c":26,"t":0,"r":0.093},{"c":26,"t":3.3,"r":0.111},{"c":26,"t":3.55,"r":0.232},{"c":26,"t":3.8,"r":0.483},{"c":26,"t":4.1,"r":0.696},{"c":26,"t":4.6,"r":0.929},{"c":26,"t":5.3,"r":1.179},{"c":26,"t":6.2,"r":1.43},{"c":26,"t":7.5,"r":1.764},{"c":26,"t":10,"r":2.219},
    {"c":27,"t":0,"r":0.096},{"c":27,"t":3.3,"r":0.116},{"c":27,"t":3.55,"r":0.241},{"c":27,"t":3.8,"r":0.501},{"c":27,"t":4.1,"r":0.723},{"c":27,"t":4.6,"r":0.964},{"c":27,"t":5.3,"r":1.225},{"c":27,"t":6.2,"r":1.485},{"c":27,"t":7.5,"r":1.832},{"c":27,"t":10,"r":2.305},
    {"c":28,"t":0,"r":0.1},{"c":28,"t":3.3,"r":0.12},{"c":28,"t":3.55,"r":0.25},{"c":28,"t":3.8,"r":0.52},{"c":28,"t":4.1,"r":0.75},{"c":28,"t":4.6,"r":1.0},{"c":28,"t":5.3,"r":1.27},{"c":28,"t":6.2,"r":1.54},{"c":28,"t":7.5,"r":1.9},{"c":28,"t":10,"r":2.39}
   ]},
   "mark": {"type": "line", "color": "#ff6622", "strokeWidth": 1.6, "interpolate": "monotone", "clip": true},
   "encoding": {
    "x": {"field": "t", "type": "quantitative"},
    "y": {"field": "r", "type": "quantitative"},
    "detail": {"field": "c", "type": "nominal"}
   }
  },
  {
   "data": {"values": [{"t":3.62,"r":0.645},{"t":5.65,"r":4.92}]},
   "mark": {"type": "line", "color": "#e8102a", "strokeWidth": 2, "strokeDash": [7,5]},
   "encoding": {"x": {"field": "t", "type": "quantitative"}, "y": {"field": "r", "type": "quantitative"}}
  },
  {
   "data": {"values": [{"t":3.18,"r":4.21,"txt":"shock wave"},{"t":8.01,"r":3.8,"txt":"water"},{"t":7.95,"r":0.81,"txt":"copper"}]},
   "mark": {"type": "text", "fontSize": 21, "align": "center", "baseline": "middle", "color": "#000000"},
   "encoding": {"x": {"field": "t", "type": "quantitative"}, "y": {"field": "r", "type": "quantitative"}, "text": {"field": "txt"}}
  }
 ]
},
{
 "width": 416, "height": 297,
 "title": {"text": "(c)", "anchor": "start", "frame": "group", "baseline": "middle", "offset": -10, "dx": -78, "dy": 21},
 "resolve": {"scale": {"y": "independent"}},
 "layer": [
  {
   "data": {"values": [{"t":0,"d":9100},{"t":1.5,"d":9000},{"t":2.2,"d":8800},{"t":2.6,"d":8300},{"t":2.95,"d":7100},{"t":3.15,"d":5600},{"t":3.29,"d":4650},{"t":3.48,"d":2240},{"t":3.6,"d":1000},{"t":3.77,"d":431},{"t":3.96,"d":232},{"t":4.25,"d":138},{"t":4.73,"d":82},{"t":5.21,"d":57},{"t":5.69,"d":44},{"t":6.17,"d":35.5},{"t":6.56,"d":31},{"t":7.3,"d":25},{"t":8.0,"d":20.2},{"t":9.0,"d":16.3},{"t":9.44,"d":14.8},{"t":10.5,"d":12.8},{"t":11.0,"d":12.0},{"t":12.0,"d":11.2}]},
   "mark": {"type": "line", "color": "#1f48ff", "strokeWidth": 4.5, "interpolate": "monotone"},
   "encoding": {
    "x": {"field": "t", "type": "quantitative", "scale": {"domain": [0, 12], "nice": false}, "axis": {"title": "time/μs", "values": [0,2,4,6,8,10,12], "titlePadding": 1}},
    "y": {"field": "d", "type": "quantitative", "scale": {"type": "log", "domain": [1, 10000], "nice": false}, "axis": {"orient": "left", "title": "density/(kg·m⁻³)", "values": [1,2,3,4,5,6,7,8,9,10,20,30,40,50,60,70,80,90,100,200,300,400,500,600,700,800,900,1000,2000,3000,4000,5000,6000,7000,8000,9000,10000], "tickCount": 60, "labelExpr": "datum.value == 1 ? '10⁰' : datum.value == 10 ? '10¹' : datum.value == 100 ? '10²' : datum.value == 1000 ? '10³' : datum.value == 10000 ? '10⁴' : ''", "tickSize": {"condition": {"test": "indexof([1,10,100,1000,10000], datum.value) >= 0", "value": -8}, "value": -4}, "titlePadding": 8}}
   }
  },
  {
   "data": {"values": [{"t":6.2,"d":13.4,"txt":"density"}]},
   "mark": {"type": "text", "fontSize": 21, "align": "center", "baseline": "middle", "color": "#000000"},
   "encoding": {"x": {"field": "t", "type": "quantitative"}, "y": {"field": "d", "type": "quantitative", "scale": {"type": "log", "domain": [1, 10000], "nice": false}, "axis": null}, "text": {"field": "txt"}}
  },
  {
   "data": {"values": [{"t":0,"lo":0.3,"hi":0.3},{"t":1.0,"lo":0.31,"hi":0.33},{"t":1.6,"lo":0.38,"hi":0.42},{"t":2.0,"lo":0.52,"hi":0.58},{"t":2.3,"lo":0.75,"hi":0.82},{"t":2.61,"lo":1.18,"hi":1.28},{"t":2.76,"lo":2.15,"hi":2.4},{"t":2.9,"lo":3.55,"hi":3.85},{"t":3.1,"lo":5.3,"hi":5.65},{"t":3.29,"lo":6.6,"hi":7.2},{"t":3.43,"lo":7.4,"hi":8.5},{"t":3.5,"lo":8.0,"hi":9.4},{"t":3.58,"lo":9.6,"hi":10.6},{"t":3.67,"lo":12.3,"hi":13.2},{"t":3.77,"lo":14.1,"hi":14.55},{"t":3.91,"lo":14.45,"hi":14.75},{"t":4.06,"lo":14.3,"hi":14.62},{"t":4.25,"lo":13.55,"hi":14.05},{"t":4.5,"lo":12.85,"hi":13.35},{"t":4.73,"lo":12.15,"hi":12.7},{"t":5.21,"lo":11.25,"hi":11.85},{"t":5.69,"lo":10.85,"hi":11.45},{"t":6.17,"lo":10.6,"hi":11.2},{"t":7.0,"lo":10.45,"hi":11.05},{"t":8.0,"lo":10.4,"hi":11.0},{"t":9.0,"lo":10.3,"hi":10.95},{"t":10.0,"lo":10.1,"hi":10.75},{"t":11.0,"lo":9.95,"hi":10.6},{"t":12.0,"lo":9.8,"hi":10.45}]},
   "mark": {"type": "area", "color": "#ff3b3b", "stroke": "#ff1a1a", "strokeWidth": 2.2, "interpolate": "monotone", "opacity": 1},
   "encoding": {
    "x": {"field": "t", "type": "quantitative"},
    "y": {"field": "lo", "type": "quantitative", "scale": {"domain": [0.28, 16], "nice": false, "zero": false}, "axis": {"orient": "right", "title": "temperature/10³ K", "values": [2,4,6,8,10,12,14,16], "tickCount": 20, "titlePadding": 11}},
    "y2": {"field": "hi"}
   }
  },
  {
   "data": {"values": [{"t":8.39,"v":12.14,"txt":"temperature"}]},
   "mark": {"type": "text", "fontSize": 21, "align": "center", "baseline": "middle", "color": "#000000"},
   "encoding": {"x": {"field": "t", "type": "quantitative"}, "y": {"field": "v", "type": "quantitative", "scale": {"domain": [0.28, 16], "nice": false, "zero": false}, "axis": null}, "text": {"field": "txt"}}
  }
 ]
},
{
 "width": 416, "height": 297,
 "title": {"text": "(d)", "anchor": "start", "frame": "group", "baseline": "middle", "offset": -10, "dx": -62, "dy": 21},
 "layer": [
  {
   "data": {"values": [
    {"c":"3.69 μs","r":0,"p":1.8},{"c":"3.69 μs","r":0.17,"p":1.71},{"c":"3.69 μs","r":0.353,"p":1.59},{"c":"3.69 μs","r":0.43,"p":1.4},{"c":"3.69 μs","r":0.526,"p":1.22},{"c":"3.69 μs","r":0.59,"p":1.02},{"c":"3.69 μs","r":0.635,"p":0.84},{"c":"3.69 μs","r":0.69,"p":0.66},{"c":"3.69 μs","r":0.75,"p":0.35},{"c":"3.69 μs","r":0.815,"p":0.145},{"c":"3.69 μs","r":0.91,"p":0.045},{"c":"3.69 μs","r":1.1,"p":0.011},{"c":"3.69 μs","r":1.46,"p":0},{"c":"3.69 μs","r":8,"p":0},
    {"c":"4.02 μs","r":0,"p":0.816},{"c":"4.02 μs","r":0.3,"p":0.82},{"c":"4.02 μs","r":0.5,"p":0.832},{"c":"4.02 μs","r":0.654,"p":0.85},{"c":"4.02 μs","r":0.815,"p":0.928},{"c":"4.02 μs","r":0.943,"p":0.977},{"c":"4.02 μs","r":1.103,"p":1.008},{"c":"4.02 μs","r":1.167,"p":1.011},{"c":"4.02 μs","r":1.264,"p":0.99},{"c":"4.02 μs","r":1.36,"p":0.939},{"c":"4.02 μs","r":1.424,"p":0.872},{"c":"4.02 μs","r":1.456,"p":0.727},{"c":"4.02 μs","r":1.475,"p":0.458},{"c":"4.02 μs","r":1.488,"p":0.28},{"c":"4.02 μs","r":1.507,"p":0.1},{"c":"4.02 μs","r":1.552,"p":0.022},{"c":"4.02 μs","r":1.777,"p":0.011},{"c":"4.02 μs","r":2.418,"p":0},{"c":"4.02 μs","r":8,"p":0},
    {"c":"4.43 μs","r":0,"p":0.387},{"c":"4.43 μs","r":0.5,"p":0.39},{"c":"4.43 μs","r":0.91,"p":0.4},{"c":"4.43 μs","r":1.135,"p":0.481},{"c":"4.43 μs","r":1.456,"p":0.559},{"c":"4.43 μs","r":1.777,"p":0.633},{"c":"4.43 μs","r":2.097,"p":0.693},{"c":"4.43 μs","r":2.29,"p":0.711},{"c":"4.43 μs","r":2.335,"p":0.716},{"c":"4.43 μs","r":2.36,"p":0.648},{"c":"4.43 μs","r":2.386,"p":0.347},{"c":"4.43 μs","r":2.418,"p":0.022},{"c":"4.43 μs","r":2.48,"p":0.004},{"c":"4.43 μs","r":3.0,"p":0},{"c":"4.43 μs","r":8,"p":0},
    {"c":"4.83 μs","r":0,"p":0.246},{"c":"4.83 μs","r":0.5,"p":0.246},{"c":"4.83 μs","r":1.1,"p":0.253},{"c":"4.83 μs","r":1.46,"p":0.324},{"c":"4.83 μs","r":2.1,"p":0.436},{"c":"4.83 μs","r":2.74,"p":0.525},{"c":"4.83 μs","r":3.16,"p":0.563},{"c":"4.83 μs","r":3.21,"p":0.514},{"c":"4.83 μs","r":3.24,"p":0.347},{"c":"4.83 μs","r":3.265,"p":0.145},{"c":"4.83 μs","r":3.32,"p":0.004},{"c":"4.83 μs","r":3.64,"p":0},{"c":"4.83 μs","r":8,"p":0},
    {"c":"5.29 μs","r":0,"p":0.172},{"c":"5.29 μs","r":1.3,"p":0.177},{"c":"5.29 μs","r":1.46,"p":0.2},{"c":"5.29 μs","r":2.1,"p":0.26},{"c":"5.29 μs","r":2.74,"p":0.32},{"c":"5.29 μs","r":3.38,"p":0.39},{"c":"5.29 μs","r":3.96,"p":0.447},{"c":"5.29 μs","r":4.1,"p":0.476},{"c":"5.29 μs","r":4.14,"p":0.35},{"c":"5.29 μs","r":4.17,"p":0.15},{"c":"5.29 μs","r":4.21,"p":0.011},{"c":"5.29 μs","r":4.41,"p":0},{"c":"5.29 μs","r":8,"p":0},
    {"c":"5.75 μs","r":0,"p":0.13},{"c":"5.75 μs","r":1.46,"p":0.134},{"c":"5.75 μs","r":2.1,"p":0.179},{"c":"5.75 μs","r":2.74,"p":0.224},{"c":"5.75 μs","r":3.38,"p":0.257},{"c":"5.75 μs","r":4.02,"p":0.306},{"c":"5.75 μs","r":4.66,"p":0.347},{"c":"5.75 μs","r":4.95,"p":0.387},{"c":"5.75 μs","r":5.04,"p":0.313},{"c":"5.75 μs","r":5.08,"p":0.123},{"c":"5.75 μs","r":5.11,"p":0.011},{"c":"5.75 μs","r":5.18,"p":0},{"c":"5.75 μs","r":8,"p":0},
    {"c":"6.25 μs","r":0,"p":0.11},{"c":"6.25 μs","r":1.58,"p":0.11},{"c":"6.25 μs","r":2.1,"p":0.134},{"c":"6.25 μs","r":2.74,"p":0.157},{"c":"6.25 μs","r":3.38,"p":0.179},{"c":"6.25 μs","r":4.02,"p":0.206},{"c":"6.25 μs","r":4.66,"p":0.239},{"c":"6.25 μs","r":5.3,"p":0.268},{"c":"6.25 μs","r":5.75,"p":0.313},{"c":"6.25 μs","r":5.95,"p":0.309},{"c":"6.25 μs","r":6.01,"p":0.212},{"c":"6.25 μs","r":6.06,"p":0.022},{"c":"6.25 μs","r":6.14,"p":0},{"c":"6.25 μs","r":8,"p":0},
    {"c":"6.75 μs","r":0,"p":0.09},{"c":"6.75 μs","r":1.78,"p":0.092},{"c":"6.75 μs","r":2.42,"p":0.112},{"c":"6.75 μs","r":3.38,"p":0.134},{"c":"6.75 μs","r":4.34,"p":0.168},{"c":"6.75 μs","r":5.3,"p":0.195},{"c":"6.75 μs","r":5.95,"p":0.239},{"c":"6.75 μs","r":6.27,"p":0.257},{"c":"6.75 μs","r":6.78,"p":0.286},{"c":"6.75 μs","r":6.876,"p":0.123},{"c":"6.75 μs","r":7.02,"p":0},{"c":"6.75 μs","r":8,"p":0}
   ]},
   "mark": {"type": "line", "strokeWidth": 1.4, "clip": true},
   "encoding": {
    "x": {"field": "r", "type": "quantitative", "scale": {"domain": [0, 8], "nice": false}, "axis": {"title": "r/mm", "values": [0,2,4,6,8], "titlePadding": 1}},
    "y": {"field": "p", "type": "quantitative", "scale": {"domain": [0, 2], "nice": false}, "axis": {"title": "pressure/GPa", "values": [0,0.2,0.4,0.6,0.8,1.0,1.2,1.4,1.6,1.8,2.0], "tickCount": 30, "labelExpr": "datum.value == 0 ? '0' : format(datum.value, '.1f')", "labelOverlap": false, "labelSeparation": 0, "titlePadding": 11}},
    "color": {"field": "c", "type": "nominal", "scale": {"domain": ["3.69 μs","4.02 μs","4.43 μs","4.83 μs","5.29 μs","5.75 μs","6.25 μs","6.75 μs"], "range": ["#000000","#ff1a1a","#4ce600","#0a4cff","#5ff5d0","#b05cff","#6a1fd1","#728a26"]}, "legend": {"title": null, "orient": "none", "legendX": 279, "legendY": 19, "symbolType": "stroke", "symbolSize": 2209, "symbolStrokeWidth": 1.4, "clipHeight": 24, "rowPadding": 2.04, "labelFontSize": 21, "labelOffset": 5, "labelLimit": 300, "padding": 0, "labelColor": "#000000"}}
   }
  },
  {
   "data": {"values": [{"r":1.059,"p":1.326,"r2":0.314,"p2":0.843}]},
   "mark": {"type": "rule", "color": "#ff1a1a", "strokeWidth": 1.4},
   "encoding": {"x": {"field": "r", "type": "quantitative"}, "y": {"field": "p", "type": "quantitative"}, "x2": {"field": "r2"}, "y2": {"field": "p2"}}
  },
  {
   "data": {"values": [{"r":0.314,"p":0.843}]},
   "mark": {"type": "point", "shape": "M0,0L-0.55,2L0,1.55L0.55,2Z", "filled": true, "size": 196, "angle": 208, "color": "#ff1a1a", "opacity": 1},
   "encoding": {"x": {"field": "r", "type": "quantitative"}, "y": {"field": "p", "type": "quantitative"}}
  },
  {
   "data": {"values": [{"r":2.918,"p":0.838,"r2":2.359,"p2":0.659}]},
   "mark": {"type": "rule", "color": "#44e000", "strokeWidth": 1.4},
   "encoding": {"x": {"field": "r", "type": "quantitative"}, "y": {"field": "p", "type": "quantitative"}, "x2": {"field": "r2"}, "y2": {"field": "p2"}}
  },
  {
   "data": {"values": [{"r":2.359,"p":0.659}]},
   "mark": {"type": "point", "shape": "M0,0L-0.55,2L0,1.55L0.55,2Z", "filled": true, "size": 196, "angle": 228, "color": "#44e000", "opacity": 1},
   "encoding": {"x": {"field": "r", "type": "quantitative"}, "y": {"field": "p", "type": "quantitative"}}
  },
  {
   "data": {"values": [{"r":1.18,"p":1.321,"txt":"exploding wire"}]},
   "mark": {"type": "text", "fontSize": 21, "align": "left", "baseline": "middle", "color": "#ff1a1a"},
   "encoding": {"x": {"field": "r", "type": "quantitative"}, "y": {"field": "p", "type": "quantitative"}, "text": {"field": "txt"}}
  },
  {
   "data": {"values": [{"r":2.98,"p":0.861,"txt":"shock wave"}]},
   "mark": {"type": "text", "fontSize": 21, "align": "left", "baseline": "middle", "color": "#44e000"},
   "encoding": {"x": {"field": "r", "type": "quantitative"}, "y": {"field": "p", "type": "quantitative"}, "text": {"field": "txt"}}
  }
 ]
}
]
}
